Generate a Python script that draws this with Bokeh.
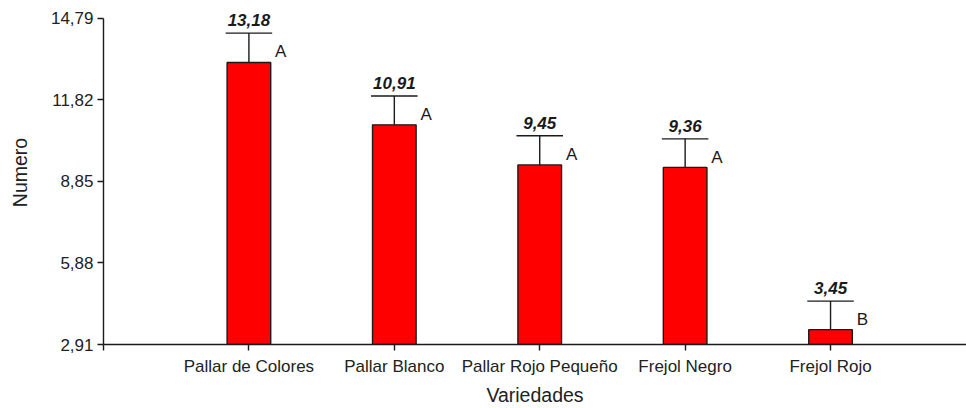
from bokeh.plotting import figure
from bokeh.models import ColumnDataSource, FixedTicker, Range1d, Whisker
from bokeh.embed import file_html
from bokeh.resources import INLINE
from bokeh.core.properties import value

categories = ["Pallar de Colores", "Pallar Blanco", "Pallar Rojo Pequeño", "Frejol Negro", "Frejol Rojo"]
means = [13.18, 10.91, 9.45, 9.36, 3.45]
errors = [1.07, 1.05, 1.06, 1.04, 1.04]
groups = ["A", "A", "A", "A", "B"]
value_labels = ["13,18", "10,91", "9,45", "9,36", "3,45"]
y_ticks = [2.91, 5.88, 8.85, 11.82, 14.79]
y_tick_labels = ["2,91", "5,88", "8,85", "11,82", "14,79"]

FONT = "Liberation Sans"
BASE = 2.91
YMAX = 14.79
# headroom above the top tick so the value labels are not clipped (18 px at 330 px per 11.88 units)
Y_END = YMAX + (YMAX - BASE) * 18 / 330

xs = list(range(1, len(categories) + 1))
src = ColumnDataSource(dict(
    x=xs,
    top=means,
    upper=[m + e for m, e in zip(means, errors)],
    mid=[m + e / 2 for m, e in zip(means, errors)],
    lx=[x + 0.18 for x in xs],
    grp=groups,
    lab=value_labels,
))

p = figure(width=966, height=408, output_backend="svg", toolbar_location=None,
           x_range=Range1d(0, 5.935), y_range=Range1d(BASE, Y_END),
           min_border_left=103, min_border_right=0, min_border_top=0, min_border_bottom=60)
p.outline_line_color = None
p.xgrid.visible = False
p.ygrid.visible = False
p.background_fill_color = "white"

p.vbar(x="x", top="top", bottom=BASE, width=0.30, source=src,
       fill_color="#ff0000", line_color="#1a1a1a", line_width=1.4)
w = Whisker(base="x", upper="upper", lower="top", source=src,
            line_color="#1a1a1a", line_width=1.4,
            upper_head=None, lower_head=None)
p.add_layout(w)
p.segment(x0=[x - 0.16 for x in xs], x1=[x + 0.16 for x in xs],
          y0=src.data["upper"], y1=src.data["upper"], line_color="#1a1a1a", line_width=1.4)

p.text(x="x", y="upper", text="lab", source=src, text_align="center", text_baseline="bottom",
       y_offset=-7, text_font=value(FONT), text_font_size="17px", text_font_style="bold italic",
       text_color="#1a1a1a")
p.text(x="lx", y="mid", text="grp", source=src, text_align="left", text_baseline="middle",
       y_offset=4, text_font=value(FONT), text_font_size="17px", text_color="#1a1a1a")

xa = p.xaxis[0]
xa.ticker = FixedTicker(ticks=[0] + xs)
xa.major_label_overrides = {0: ""} | {x: c for x, c in zip(xs, categories)}
xa.axis_label = "Variedades"
ya = p.yaxis[0]
ya.ticker = FixedTicker(ticks=y_ticks)
ya.major_label_overrides = {t: l for t, l in zip(y_ticks, y_tick_labels)}
ya.axis_label = "Numero"
ya.bounds = (BASE, YMAX)

for ax in (xa, ya):
    ax.axis_line_color = "#1a1a1a"
    ax.axis_line_width = 1.4
    ax.major_tick_line_color = "#1a1a1a"
    ax.major_tick_line_width = 1.4
    ax.major_tick_in = 0
    ax.major_tick_out = 6
    ax.minor_tick_line_color = None
    ax.major_label_text_font = FONT
    ax.major_label_text_font_size = "17px"
    ax.major_label_text_color = "#222222"
    ax.axis_label_text_font = FONT
    ax.axis_label_text_font_size = "19.5px"
    ax.axis_label_text_font_style = "normal"
    ax.axis_label_text_color = "#222222"
ya.major_label_standoff = 4
xa.major_label_standoff = 6
ya.axis_label_standoff = 17
xa.axis_label_standoff = 5

open("out.html", "w").write(file_html(p, INLINE))
